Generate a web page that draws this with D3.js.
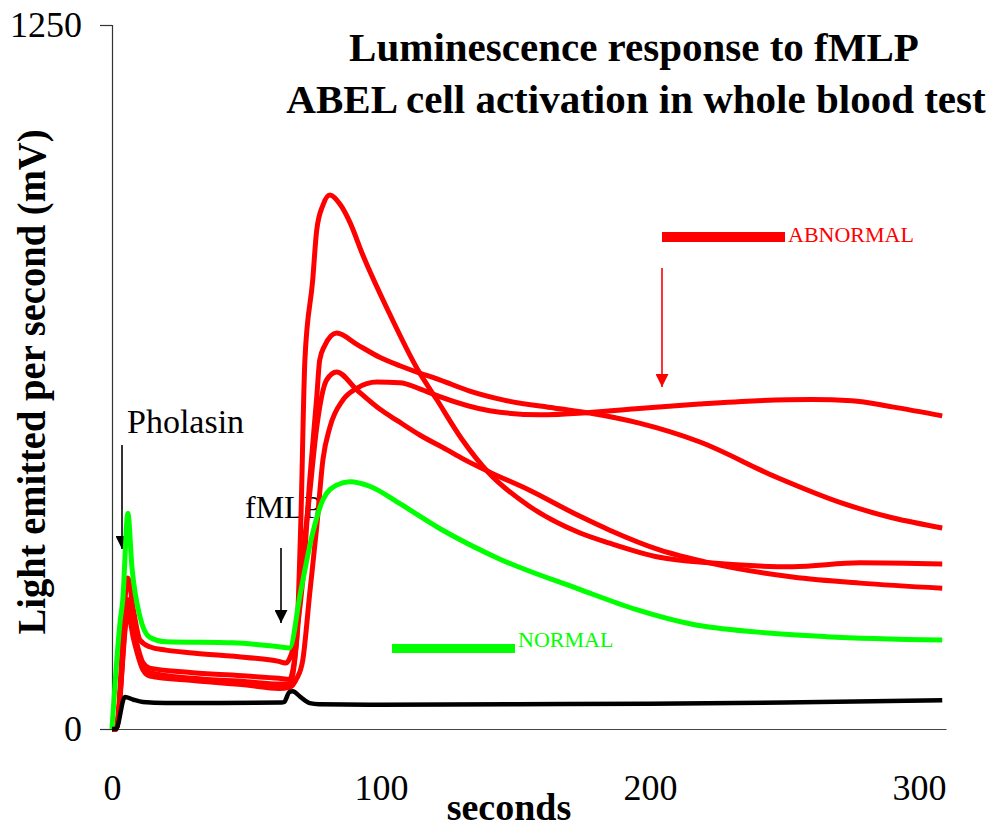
<!DOCTYPE html>
<meta charset="utf-8">
<style>
body { margin: 0; background: #fff; }
text { font-family: "Liberation Serif", "Times New Roman", serif; }
</style>
<svg id="chart" width="997" height="829"></svg>
<script src="https://cdn.jsdelivr.net/npm/d3@7"></script>
<script>
// [seconds, mV]
var redTall = [[0,0],[1.5,0],[5.9,230],[8,170],[11.5,112],[14,100],[30,90],[50,84],[62,80],[66,80],[68.5,150],[70.2,370],[71.7,655],[74.6,797],[76.1,886],[78.4,930],[81,948],[84.7,932],[88.4,900],[93.2,842],[103,739],[114,635],[120.7,585],[130,515],[140,455],[155,396],[174,348],[185,330],[203.5,305],[222,295],[253,288],[278,295],[308.6,293]];
var redUpper = [[0,0],[1.5,0],[5.9,268],[8,210],[10.4,158],[14,146],[20,140],[30,135],[50,127],[62,120],[64.5,117],[66,125],[68.7,176],[70.9,265],[73.5,442],[76.1,589],[77.2,655],[79,680],[83.5,703],[91,683],[99.5,660],[107,645],[114.4,632],[121.8,620],[133,600],[145.7,584],[164.3,570],[177.5,561],[196,543],[218.3,510],[247,447],[271.4,401],[290,375],[308.6,357]];
var redMid = [[0,0],[1.5,0],[5.9,215],[8,175],[11.5,118],[14,108],[30,100],[50,94],[62,90],[66,88],[68.5,150],[70.9,300],[73.5,419],[76.1,536],[79.8,620],[83.5,634],[91,602],[99.5,568],[105.9,548],[114.4,522],[124.4,496],[130.3,480],[140.4,456],[155.2,424],[173.8,378],[185,353],[203.5,318],[222,295],[253,270],[278,259],[308.6,250]];
var redRound = [[0,0],[1.5,0],[5.9,205],[8,160],[11.5,105],[14,94],[30,86],[50,78],[62,72],[66,74],[68.7,90],[70.9,122],[73.5,241],[76.1,359],[78.4,478],[81,536],[85.8,584],[91,605],[98.4,616],[107,615],[114.4,604],[121.8,590],[140.4,565],[159,558],[177.5,562],[196,569],[218.3,577],[240,583],[260,585],[275,583],[290,572],[308.6,556]];
var greenNormal = [[0,0],[3,190],[4,229],[5.9,383],[7.4,288],[10.4,199],[14,163],[20,155],[45,153],[62,146],[66,144],[70,241],[74.6,348],[78.4,407],[83.5,433],[88.4,439],[95.8,431],[107,400],[121.8,356],[144,302],[173.8,248],[195,212],[215.7,186],[240,172],[265.5,164],[308.6,158]];
var blackBase = [[0,0],[1.5,0],[4.8,57],[8,52],[11.5,48],[20,46],[40,46],[63,47],[64,48],[66,66],[67.2,67],[70,57],[73.5,46],[77,44],[100,43],[150,44],[200,45],[250,47],[308.6,51]];

var redSeries = [redTall, redUpper, redMid, redRound];
var xTicks = [0, 100, 200, 300];
var yTicks = [0, 1250];

var svg = d3.select("#chart");

var x = d3.scaleLinear().domain([0, 310]).range([112, 946]);
var y = d3.scaleLinear().domain([0, 1250]).range([729, 25]);

var line = d3.line()
  .x(function(d) { return x(d[0]); })
  .y(function(d) { return y(d[1]); })
  .curve(d3.curveMonotoneX);

// axes
var yAxis = svg.append("g")
  .attr("transform", "translate(" + x(0) + ",0)")
  .call(d3.axisLeft(y).tickValues(yTicks).tickSize(12).tickPadding(18).tickFormat(d3.format("d")));
yAxis.selectAll("path, line").attr("stroke", "#333").attr("stroke-width", 1.2);
yAxis.selectAll("text").attr("font-size", 36).attr("font-family", "Liberation Serif").attr("fill", "#000");

var xAxis = svg.append("g")
  .attr("transform", "translate(0," + y(0) + ")")
  .call(d3.axisBottom(x).tickValues(xTicks).tickSize(0).tickSizeOuter(0));
xAxis.select(".domain").attr("stroke", "#444").attr("stroke-width", 1.2);
xAxis.selectAll("text").attr("font-size", 36).attr("font-family", "Liberation Serif")
  .attr("fill", "#000").attr("y", 71).attr("dy", null);

// annotations under the lines
svg.append("text").attr("x", 127).attr("y", 433).attr("font-size", 34).text("Pholasin");
svg.append("text").attr("x", 245).attr("y", 518).attr("font-size", 32).text("fMLP");

svg.append("defs").selectAll("marker")
  .data([["arrBlack", "#000"], ["arrRed", "#ff0000"]])
  .enter().append("marker")
  .attr("id", function(d) { return d[0]; })
  .attr("viewBox", "0 0 10 10")
  .attr("refX", 10).attr("refY", 5)
  .attr("markerUnits", "userSpaceOnUse")
  .attr("markerWidth", 16).attr("markerHeight", 13)
  .attr("orient", "auto")
  .append("path").attr("d", "M0,0L10,5L0,10Z").attr("fill", function(d) { return d[1]; });

svg.append("line").attr("x1", 122).attr("x2", 122).attr("y1", 445).attr("y2", 549)
  .attr("stroke", "#000").attr("stroke-width", 1.6).attr("marker-end", "url(#arrBlack)");
svg.append("line").attr("x1", 281).attr("x2", 281).attr("y1", 548).attr("y2", 623)
  .attr("stroke", "#000").attr("stroke-width", 1.6).attr("marker-end", "url(#arrBlack)");
svg.append("line").attr("x1", 662).attr("x2", 662).attr("y1", 268).attr("y2", 387)
  .attr("stroke", "#ff0000").attr("stroke-width", 1.6).attr("marker-end", "url(#arrRed)");

// series
svg.append("g").selectAll("path")
  .data(redSeries)
  .enter().append("path")
  .attr("d", line)
  .attr("fill", "none")
  .attr("stroke", "#ff0000")
  .attr("stroke-width", 5)
  .attr("stroke-linejoin", "round");

svg.append("path").datum(greenNormal)
  .attr("d", line).attr("fill", "none")
  .attr("stroke", "#00ff00").attr("stroke-width", 5).attr("stroke-linejoin", "round");

svg.append("path").datum(blackBase)
  .attr("d", line).attr("fill", "none")
  .attr("stroke", "#000").attr("stroke-width", 4.5).attr("stroke-linejoin", "round");

// legend keys
svg.append("rect").attr("x", 392).attr("y", 644).attr("width", 123).attr("height", 9).attr("fill", "#00ff00");
svg.append("text").attr("x", 518).attr("y", 647).attr("font-size", 22).attr("fill", "#00ff00").text("NORMAL");
svg.append("rect").attr("x", 662).attr("y", 232).attr("width", 123).attr("height", 10).attr("fill", "#ff0000");
svg.append("text").attr("x", 788).attr("y", 242).attr("font-size", 22).attr("fill", "#ff0000").text("ABNORMAL");

// titles
svg.append("text").attr("x", 634).attr("y", 61).attr("text-anchor", "middle")
  .attr("font-size", 41).attr("font-weight", "bold").text("Luminescence response to fMLP");
svg.append("text").attr("x", 636).attr("y", 113).attr("text-anchor", "middle")
  .attr("font-size", 41).attr("font-weight", "bold").text("ABEL cell activation in whole blood test");

svg.append("text")
  .attr("transform", "translate(45,382) rotate(-90)")
  .attr("text-anchor", "middle")
  .attr("font-size", 41).attr("font-weight", "bold")
  .attr("textLength", 505).attr("lengthAdjust", "spacingAndGlyphs")
  .text("Light emitted per second (mV)");

svg.append("text").attr("x", 509).attr("y", 820).attr("text-anchor", "middle")
  .attr("font-size", 38).attr("font-weight", "bold").text("seconds");
</script>
